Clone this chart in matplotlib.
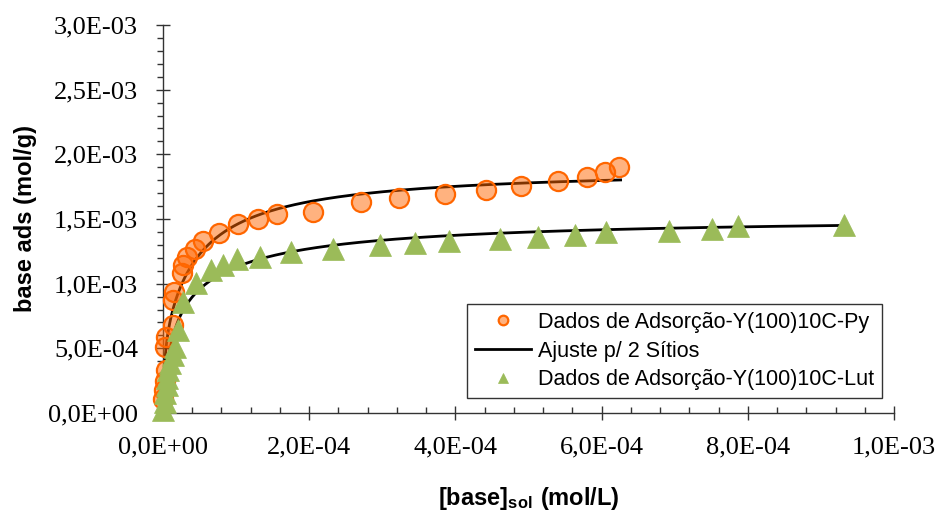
import numpy as np
import matplotlib
matplotlib.use("Agg")
import matplotlib.pyplot as plt
from matplotlib.ticker import MultipleLocator, FuncFormatter

# Adsorption data, Y(100)10C with pyridine (c in mol/L, q in mol/g)
py_c = [0.0068e-4, 0.0137e-4, 0.027e-4, 0.041e-4, 0.027e-4, 0.041e-4, 0.137e-4,
        0.141e-4, 0.150e-4, 0.256e-4, 0.278e-4, 0.324e-4, 0.438e-4, 0.551e-4,
        0.766e-4, 1.022e-4, 1.300e-4, 1.564e-4, 2.056e-4, 2.713e-4, 3.224e-4,
        3.854e-4, 4.425e-4, 4.893e-4, 5.408e-4, 5.804e-4, 6.046e-4, 6.242e-4]
py_q = [0.108e-3, 0.178e-3, 0.247e-3, 0.333e-3, 0.510e-3, 0.588e-3, 0.680e-3,
        0.874e-3, 0.936e-3, 1.080e-3, 1.145e-3, 1.204e-3, 1.268e-3, 1.333e-3,
        1.390e-3, 1.462e-3, 1.500e-3, 1.537e-3, 1.557e-3, 1.630e-3, 1.660e-3,
        1.694e-3, 1.725e-3, 1.758e-3, 1.792e-3, 1.828e-3, 1.864e-3, 1.900e-3]

# Adsorption data, Y(100)10C with lutidine
lut_c = [0.004e-4, 0.027e-4, 0.027e-4, 0.051e-4, 0.051e-4, 0.073e-4, 0.096e-4,
         0.141e-4, 0.164e-4, 0.209e-4, 0.269e-4, 0.451e-4, 0.652e-4, 0.825e-4,
         1.008e-4, 1.327e-4, 1.755e-4, 2.330e-4, 2.963e-4, 3.454e-4, 3.919e-4,
         4.610e-4, 5.126e-4, 5.636e-4, 6.060e-4, 6.918e-4, 7.510e-4, 7.862e-4,
         9.320e-4]
lut_q = [0.023e-3, 0.087e-3, 0.152e-3, 0.217e-3, 0.268e-3, 0.333e-3, 0.384e-3,
         0.449e-3, 0.513e-3, 0.642e-3, 0.861e-3, 1.003e-3, 1.106e-3, 1.145e-3,
         1.189e-3, 1.207e-3, 1.247e-3, 1.271e-3, 1.297e-3, 1.316e-3, 1.332e-3,
         1.342e-3, 1.364e-3, 1.379e-3, 1.398e-3, 1.410e-3, 1.425e-3, 1.444e-3,
         1.452e-3]

# Two-site Langmuir parameters (q_max in mol/g, K in L/mol)
py_fit = dict(q1=0.60e-3, k1=5.0e5, q2=1.30e-3, k2=2.0e4, c_end=6.26e-4)
lut_fit = dict(q1=0.90e-3, k1=1.0e5, q2=0.62e-3, k2=1.0e4, c_end=9.32e-4)

labels = ["Dados de Adsorção-Y(100)10C-Py", "Ajuste p/ 2 Sítios",
          "Dados de Adsorção-Y(100)10C-Lut"]


def two_site(c, q1, k1, q2, k2):
    return q1 * k1 * c / (1 + k1 * c) + q2 * k2 * c / (1 + k2 * c)


plt.rcParams["mathtext.fontset"] = "custom"
plt.rcParams["mathtext.bf"] = "Liberation Sans:bold"
plt.rcParams["mathtext.rm"] = "Liberation Sans"

fig = plt.figure(figsize=(9.38, 5.12), dpi=100)
ax = fig.add_axes([163 / 938, 1 - 413 / 512, (894 - 163) / 938, (413 - 25) / 512])

for p in (py_fit, lut_fit):
    cc = np.linspace(0, p["c_end"], 400)
    line, = ax.plot(cc, two_site(cc, p["q1"], p["k1"], p["q2"], p["k2"]),
                    color="black", lw=2.0, zorder=2)

h_py, = ax.plot(py_c, py_q, "o", ms=13.8, mfc=(1, 0.4, 0, 0.5),
                mec="#FF6600", mew=1.6, zorder=3, clip_on=False)
h_lut, = ax.plot(lut_c, lut_q, "^", ms=15.5, mfc="#9BBB59", mec="#9BBB59",
                 mew=0.5, zorder=4, clip_on=False)

ax.set_xlim(0, 1.0e-3)
ax.set_ylim(0, 3.0e-3)
for s in ("top", "right"):
    ax.spines[s].set_visible(False)
for s in ("left", "bottom"):
    ax.spines[s].set_linewidth(1.0)
    ax.spines[s].set_color("#333333")

ax.xaxis.set_major_locator(MultipleLocator(2e-4))
ax.xaxis.set_minor_locator(MultipleLocator(4e-5))
ax.yaxis.set_major_locator(MultipleLocator(5e-4))
ax.yaxis.set_minor_locator(MultipleLocator(1e-4))

fmt = FuncFormatter(lambda v, pos: f"{v:.1E}".replace(".", ","))
ax.xaxis.set_major_formatter(fmt)
ax.yaxis.set_major_formatter(fmt)

ax.tick_params(axis="both", which="major", direction="inout", length=10,
               width=1.0, color="#333333", labelsize=19)
ax.tick_params(axis="y", which="major", pad=13)
ax.tick_params(axis="x", which="major", pad=12)
ax.tick_params(axis="y", which="minor", direction="out", length=4.5,
               width=1.0, color="#333333")
ax.tick_params(axis="x", which="minor", direction="in", length=4.5,
               width=1.0, color="#333333")
for lbl in ax.get_xticklabels() + ax.get_yticklabels():
    lbl.set_fontfamily("Liberation Serif")

ax.set_ylabel("base ads (mol/g)", fontsize=17, fontweight="bold",
              family="Liberation Sans", labelpad=8)
ax.set_xlabel(r"$\mathbf{[base]_{sol}\ (mol/L)}$", fontsize=17, labelpad=19)

leg = ax.legend([h_py, line, h_lut], labels, loc="lower left",
                bbox_to_anchor=(467 / 938, 1 - 398 / 512),
                bbox_transform=fig.transFigure, borderaxespad=0,
                frameon=True, fancybox=False, edgecolor="black",
                markerscale=0.5, handlelength=2.6, handletextpad=0.35,
                labelspacing=0.36, borderpad=0.35,
                prop={"family": "Liberation Sans", "size": 15.5})
leg.get_frame().set_linewidth(1.0)

fig.savefig("out.png", dpi=100)
